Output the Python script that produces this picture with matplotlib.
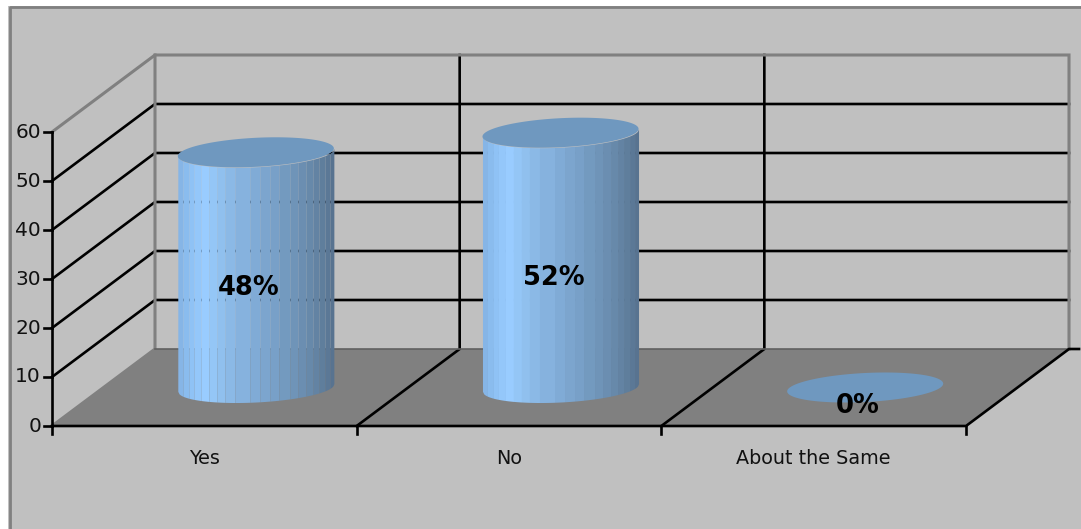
import numpy as np
import matplotlib
matplotlib.use('Agg')
import matplotlib.pyplot as plt

categories = ['Yes', 'No', 'About the Same']
values = [48, 52, 0]
labels = ['48%', '52%', '0%']
yticks = [0, 10, 20, 30, 40, 50, 60]

W, H = 1081, 529
# pixel scale of the fake 3d box
CAT_PX = 304.67
VAL_PX = 4.9
X0, Y0 = 52, 426
DEPTH_X = 103 / CAT_PX
DEPTH_Y = 77 / VAL_PX

# strip edges of the cylinder side (0..1 over its width) and their colours
strip_edges = np.array([178, 183, 189, 194, 201, 209, 217, 225, 235, 250, 260,
                        270, 279, 290, 298, 306, 313, 319, 325, 330, 334])
strip_edges = (strip_edges - 178) / 156
strip_colors = ['#86B5E6', '#8ABCEE', '#8FC2F5', '#94C7FA', '#99CCFF', '#94C6F6',
                '#90C0EE', '#8BB9E6', '#86B2DE', '#80ABD6', '#7CA5CE', '#78A0C8',
                '#739ABF', '#6F94B8', '#6B8EB1', '#6789AA', '#6383A3', '#5F7E9C',
                '#5B7896', '#587390']
TOP_COLOR = '#6F98BF'
GREY = '#808080'
FONT = 'DejaVu Sans'


def proj(c, v, d=0):
    return c + d * DEPTH_X, v + d * DEPTH_Y


fig = plt.figure(figsize=(W / 100, H / 100), dpi=100, facecolor='white')
ax = fig.add_axes([0, 0, 1, 1])
ax.set_xlim(-X0 / CAT_PX, (W - X0) / CAT_PX)
ax.set_ylim((Y0 - H) / VAL_PX, Y0 / VAL_PX)
ax.axis('off')

# chart area with its frame on the top and left only
px = lambda x: (x - X0) / CAT_PX
py = lambda y: (Y0 - y) / VAL_PX
ax.fill([px(8), px(W), px(W), px(8)], [py(6), py(6), py(H), py(H)], color='#C0C0C0', lw=0, zorder=0)
ax.plot([px(9.5), px(9.5), px(W)], [py(H), py(6.5), py(6.5)], color=GREY, lw=2, solid_capstyle='butt', zorder=1)

n_cat = len(categories)
vmax = yticks[-1]

# floor
fx, fy = zip(proj(0, 0), proj(n_cat, 0), proj(n_cat, 0, 1), proj(0, 0, 1))
ax.fill(fx, fy, color=GREY, lw=0, zorder=1)

# gridlines on side and back wall
for v in yticks[1:-1]:
    x1, y1 = proj(0, v)
    x2, y2 = proj(0, v, 1)
    x3, y3 = proj(n_cat, v, 1)
    ax.plot([x1, x2, x3], [y1, y2, y3], color='black', lw=1.9, solid_joinstyle='miter', zorder=2)

# category dividers, back wall and floor
for c in range(1, n_cat):
    x1, y1 = proj(c, 0)
    x2, y2 = proj(c, 0, 1)
    x3, y3 = proj(c, vmax, 1)
    ax.plot([x1, x2, x3], [y1, y2, y3], color='black', lw=1.9, solid_joinstyle='miter', zorder=2)

# wall outline
x1, y1 = proj(0, vmax)
x2, y2 = proj(0, vmax, 1)
x3, y3 = proj(n_cat, vmax, 1)
x4, y4 = proj(n_cat, 0, 1)
x5, y5 = proj(0, 0, 1)
x6, y6 = proj(0, 0)
ax.plot([x1, x2, x3, x4], [y1, y2, y3, y4], color=GREY, lw=2.2, solid_joinstyle='miter', zorder=2.2)
ax.plot([x2, x5, x6], [y2, y5, y6], color=GREY, lw=2.2, solid_joinstyle='miter', zorder=2.2)
ax.plot([x5, x4], [y5, y4], color='#606060', lw=1.2, zorder=2.2)

# front axes
x7, y7 = proj(n_cat, 0)
ax.plot([x6, x6], [0, vmax], color='black', lw=1.9, zorder=5)
ax.plot([x6, x7, x4, x4 + 10 / CAT_PX], [0, 0, y4, y4], color='black', lw=1.9,
        solid_joinstyle='miter', zorder=5)
for v in yticks:
    ax.plot([x6 - 8 / CAT_PX, x6], [v, v], color='black', lw=1.9, zorder=5)
    ax.text(x6 - 11 / CAT_PX, v, str(v), ha='right', va='center', fontsize=14.5,
            family=FONT, color='#111111', zorder=6)
for c in range(n_cat + 1):
    ax.plot([c, c], [0, -8 / VAL_PX], color='black', lw=1.9, zorder=5)

# cylinders
A = 75.4 / CAT_PX
B = 0.195
theta = np.linspace(0, 2 * np.pi, 181)
for i, (val, lab, cat) in enumerate(zip(values, labels, categories)):
    cx, cy = proj(i + 0.5, 0, 0.5)
    ex = cx + A * np.cos(theta) + B * DEPTH_X * np.sin(theta)
    ey = B * DEPTH_Y * np.sin(theta)
    half = np.hypot(A, B * DEPTH_X)

    if val > 0:
        # side made of strips, lower edge follows the front of the ellipse
        for j, col in enumerate(strip_colors):
            xa = cx - half + strip_edges[j] * 2 * half
            xb = cx - half + strip_edges[j + 1] * 2 * half
            xs = np.linspace(xa, xb, 5)
            # lower half of the sheared ellipse at xs
            u = (xs - cx) / half
            slope = B * DEPTH_Y * (B * DEPTH_X) / half
            low = cy + slope * u - np.sqrt(np.maximum(1 - u ** 2, 0)) * (B * DEPTH_Y * A / half)
            ax.fill_between(xs, low, low + val, color=col, lw=0, zorder=3)
    ax.fill(ex, cy + val + ey, color=TOP_COLOR, lw=0, zorder=4)

    ax.text(cx - 7 / CAT_PX, cy + val / 2 - 3.7, lab, ha='center', va='center',
            fontsize=18.5, fontweight='bold', family=FONT, color='black', zorder=7)
    ax.text(i + 0.5, py(459), cat, ha='center', va='center', fontsize=13.8,
            family=FONT, color='#111111', zorder=6)

fig.savefig('out.png', dpi=100)
